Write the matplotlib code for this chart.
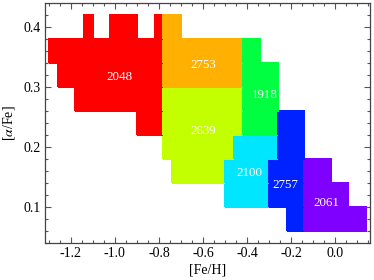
import numpy as np
import matplotlib
matplotlib.use("Agg")
import matplotlib.pyplot as plt
from matplotlib.colors import ListedColormap, BoundaryNorm
from matplotlib.ticker import MultipleLocator

plt.rcParams['font.family'] = ['Liberation Serif', 'DejaVu Serif']
plt.rcParams['mathtext.fontset'] = 'stix'

# grid of [Fe/H] x [alpha/Fe] bins
feh_edges = np.round(np.arange(-1.30, 0.14 + 1e-9, 0.04), 2)
afe_edges = np.round(np.arange(0.06, 0.42 + 1e-9, 0.04), 2)

# group counts, colours, label positions
counts = [2048, 2753, 1918, 2639, 2100, 2757, 2061]
colors = ['#ff0000', '#ffb000', '#00ff40', '#c4ff00', '#00e6ff', '#0022ff', '#7f00ff']
label_feh = [-0.98, -0.60, -0.32, -0.60, -0.39, -0.225, -0.04]
label_afe = [0.316, 0.336, 0.286, 0.226, 0.156, 0.136, 0.106]

# cells of each group: (lower [alpha/Fe] edge, [Fe/H] start, [Fe/H] end)
red_cells = [(0.38, -1.14, -1.10), (0.38, -1.02, -0.90), (0.38, -0.82, -0.78),
             (0.34, -1.30, -0.78), (0.30, -1.26, -0.78), (0.26, -1.18, -0.78),
             (0.22, -0.90, -0.78)]
orange_cells = [(0.38, -0.78, -0.70), (0.34, -0.78, -0.42), (0.30, -0.78, -0.42)]
green_cells = [(0.34, -0.42, -0.34), (0.30, -0.42, -0.26), (0.26, -0.42, -0.26),
               (0.22, -0.42, -0.26)]
yellow_cells = [(0.26, -0.78, -0.42), (0.22, -0.78, -0.42), (0.18, -0.78, -0.46),
                (0.14, -0.74, -0.50)]
cyan_cells = [(0.18, -0.46, -0.26), (0.14, -0.50, -0.30), (0.10, -0.50, -0.30)]
blue_cells = [(0.22, -0.26, -0.14), (0.18, -0.26, -0.14), (0.14, -0.30, -0.14),
              (0.10, -0.30, -0.14), (0.06, -0.22, -0.14)]
purple_cells = [(0.14, -0.14, -0.02), (0.10, -0.14, 0.06), (0.06, -0.14, 0.14)]
groups = [red_cells, orange_cells, green_cells, yellow_cells, cyan_cells,
          blue_cells, purple_cells]

nx = len(feh_edges) - 1
ny = len(afe_edges) - 1
grid = np.full((ny, nx), np.nan)
centers_x = (feh_edges[:-1] + feh_edges[1:]) / 2
centers_y = (afe_edges[:-1] + afe_edges[1:]) / 2
for gi, cells in enumerate(groups):
    for (ylo, x0, x1) in cells:
        j = int(np.argmin(np.abs(centers_y - (ylo + 0.02))))
        sel = (centers_x > x0) & (centers_x < x1)
        grid[j, sel] = gi

fig = plt.figure(figsize=(3.74, 2.80), dpi=100)
ax = fig.add_axes([0.1203, 0.131, 0.8690, 0.857])
cmap = ListedColormap(colors)
norm = BoundaryNorm(np.arange(-0.5, len(colors) + 0.5, 1), cmap.N)
ax.pcolormesh(feh_edges, afe_edges, np.ma.masked_invalid(grid), cmap=cmap,
              norm=norm, shading='flat', edgecolor='face', linewidth=0.2)

for c, x, y in zip(counts, label_feh, label_afe):
    ax.text(x, y, str(c), color='white', fontsize=9.4, ha='center', va='center')

ax.set_xlim(-1.317, 0.158)
ax.set_ylim(0.0395, 0.439)
ax.xaxis.set_major_locator(MultipleLocator(0.2))
ax.xaxis.set_minor_locator(MultipleLocator(0.05))
ax.yaxis.set_major_locator(MultipleLocator(0.1))
ax.yaxis.set_minor_locator(MultipleLocator(0.02))
ax.xaxis.set_major_formatter(matplotlib.ticker.FormatStrFormatter('%.1f'))
ax.yaxis.set_major_formatter(matplotlib.ticker.FormatStrFormatter('%.1f'))
ax.tick_params(which='both', direction='in', top=True, right=True,
               color='#555555', labelsize=10, pad=3)
ax.tick_params(which='major', length=4.5, width=0.8)
ax.tick_params(which='minor', length=2.5, width=0.8)
for s in ax.spines.values():
    s.set_color('#444444')
    s.set_linewidth(0.9)
ax.set_xlabel('[Fe/H]', fontsize=10, labelpad=2)
ax.set_ylabel(r'[$\alpha$/Fe]', fontsize=10, labelpad=5)

fig.savefig('out.png', dpi=100)
